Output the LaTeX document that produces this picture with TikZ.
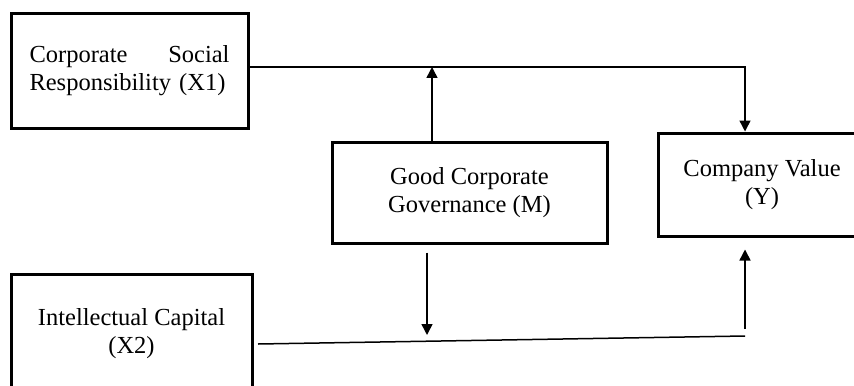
\documentclass[tikz,border=0pt]{standalone}
\usepackage{fontspec}
\setmainfont{Liberation Serif}
\usetikzlibrary{arrows.meta}

\begin{document}
\begin{tikzpicture}[x = 0.5pt, y = -0.5pt,
  box/.style={draw, line width = 1.5pt, inner sep = 0pt, align = center, font = \fontsize{12.25}{14}\selectfont},
  arr/.style={line width = 0.75pt, -{Triangle[length = 5.5pt, width = 5.5pt]}},
  lnk/.style={line width = 0.75pt}]
\clip (0,0) rectangle (854,385);
\path (129.5,71) node[box, minimum width = 118.5pt, minimum height = 57pt, text width = 100pt, align = left] (csr) {Corporate\hfill Social\\Responsibility (X1)};
\path (469.5,192.5) node[box, minimum width = 137.5pt, minimum height = 50.5pt] (gcg) {Good Corporate\\Governance (M)};
\path (762,184.5) node[box, minimum width = 104pt, minimum height = 51.5pt] (cv) {Company Value\\(Y)};
\path (131.5,334) node[box, minimum width = 120.5pt, minimum height = 60pt] (ic) {Intellectual Capital\\(X2)};
% junction points on the two lines
\coordinate (j1) at (745,67);
\coordinate (m1) at (432,67);
\coordinate (x2) at (258,344);
\coordinate (j2) at (745,336);
\coordinate (j3) at (745,329);
\coordinate (m2) at (427,335);
\draw[arr] (csr.east |- j1) -- (j1) -- (j1 |- cv.north);
\draw[arr] (m1 |- gcg.north) -- (m1);
\draw[arr, shorten <= 4pt] (m2 |- gcg.south) -- (m2);
\draw[lnk] (x2) -- (j2);
\draw[arr, shorten >= 6pt] (j3) -- (j3 |- cv.south);
\end{tikzpicture}
\end{document}
